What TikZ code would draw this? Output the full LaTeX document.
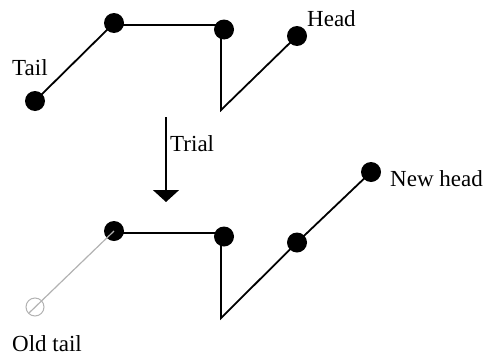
\documentclass[tikz,border=0pt]{standalone}
\usepackage{fontspec}
\setmainfont{Liberation Serif}
\usetikzlibrary{arrows.meta}
\begin{document}
\begin{tikzpicture}[x=1pt,y=-1pt,
  bead/.style={circle,fill=black,inner sep=0pt,minimum size=20pt},
  oldbead/.style={circle,draw=black!30,line width=1pt,inner sep=0pt,minimum size=18pt},
  chain/.style={line width=1.8pt,black},
  oldchain/.style={line width=1.2pt,black!30},
  lbl/.style={font=\fontsize{23}{27}\selectfont,inner sep=0pt,anchor=base west}]
\useasboundingbox (0,0) rectangle (486,356);
% top conformation
\node[bead] (t1) at (35,101) {};
\node[bead] (t2) at (114,23) {};
\node[bead] (t3) at (224,29.5) {};
\coordinate (t2h) at (114,25);
\coordinate (t3h) at (224,25);
\coordinate (t3v) at (221,29.5);
\coordinate (tc) at (221,110);
\node[bead] (t4) at (297,36) {};
\draw[chain] (t1.center) -- (t2.center);
\draw[chain] (t2h) -- (t3h);
\draw[chain] (t3v) -- (tc) -- (t4.center);
\node[lbl] (tail) at (12,75.7) {Tail};
\node[lbl] (head) at (307,26) {Head};
% arrow
\coordinate (a1) at (166,117);
\coordinate (a2) at (166,202);
\draw[line width=1.6pt,-{Triangle[width=26pt,length=12pt]}] (a1) -- (a2);
\node[lbl] (trial) at (170,151.7) {Trial};
% bottom conformation
\node[oldbead] (b0) at (35,307) {};
\coordinate (b0s) at (29,313);
\node[bead] (b1) at (114,231) {};
\node[bead] (b2) at (224,236.5) {};
\coordinate (b1h) at (114,233.3);
\coordinate (b2h) at (224,233.3);
\coordinate (b2v) at (221,236.5);
\coordinate (bc) at (221,318);
\node[bead] (b3) at (297,242.5) {};
\node[bead] (b4) at (371,172) {};
\draw[oldchain] (b0s) -- (b1.center);
\draw[chain] (b1h) -- (b2h);
\draw[chain] (b2v) -- (bc) -- (b3.center) -- (b4.center);
\node[lbl] (newhead) at (390,186.7) {New head};
\node[lbl] (oldtail) at (12,351) {Old tail};
\end{tikzpicture}
\end{document}
